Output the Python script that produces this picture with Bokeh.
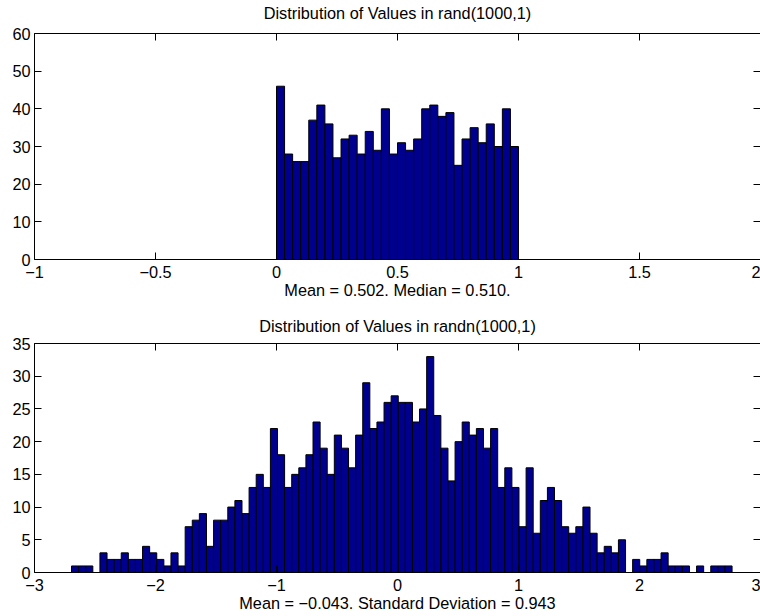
import numpy as np
from bokeh.plotting import figure
from bokeh.models import LinearAxis, FixedTicker, Range1d
from bokeh.layouts import column
from bokeh.embed import file_html
from bokeh.resources import INLINE

# ---- data ----
rand_counts = [46, 28, 26, 26, 37, 41, 36, 27, 32, 33, 28, 34, 29, 40, 28,
               31, 29, 32, 40, 41, 38, 39, 25, 32, 35, 31, 36, 30, 40, 30]
rand_bin_start = 0.0
rand_bin_width = 1.0 / 30

randn_counts = [1, 1, 1, 0, 3, 2, 2, 3, 2, 2, 4, 3, 2, 1, 3, 1, 7, 8, 9, 4,
                8, 8, 10, 11, 9, 13, 15, 13, 22, 18, 13, 15, 16, 18, 23, 19, 15, 21, 19, 16,
                21, 29, 22, 23, 26, 27, 26, 26, 23, 25, 33, 24, 19, 14, 20, 23, 21, 22, 19, 22,
                13, 16, 13, 7, 16, 6, 11, 13, 11, 7, 6, 7, 10, 6, 3, 4, 3, 5, 0, 2,
                1, 2, 2, 3, 1, 1, 1, 0, 1, 0, 1, 1, 1, 0, 0, 0]
randn_bin_start = -2.694
randn_bin_width = 0.0587

top_xticks = [-1, -0.5, 0, 0.5, 1, 1.5, 2]
top_xlabels = ["\u22121", "\u22120.5", "0", "0.5", "1", "1.5", "2"]
top_yticks = [0, 10, 20, 30, 40, 50, 60]

bot_xticks = [-3, -2, -1, 0, 1, 2, 3]
bot_xlabels = ["\u22123", "\u22122", "\u22121", "0", "1", "2", "3"]
bot_yticks = [0, 5, 10, 15, 20, 25, 30, 35]

top_title = "Distribution of Values in rand(1000,1)"
bot_title = "Distribution of Values in randn(1000,1)"
top_xlabel = "Mean = 0.502. Median = 0.510."
bot_xlabel = "Mean = \u22120.043. Standard Deviation = 0.943"

FONT = "Liberation Sans"
FS = "16.3px"
BAR = "#00008F"


def style_axis(ax, show_labels=True, show_line=True):
    ax.major_tick_in = 7
    ax.major_tick_out = 0
    ax.minor_tick_line_color = None
    ax.major_tick_line_color = "black"
    ax.axis_line_color = "black" if show_line else None
    ax.major_label_text_font = FONT
    ax.axis_label_text_font = FONT
    ax.axis_label_text_font_style = "normal"
    ax.axis_label_text_color = "black"
    ax.axis_label_text_font_size = FS
    if show_labels:
        ax.major_label_text_font_size = FS
        ax.major_label_text_color = "black"
    else:
        ax.major_label_text_font_size = "1px"
        ax.major_label_text_color = None
        ax.major_label_standoff = 0


def make_hist(counts, start, width, xr, yr, xticks, xlabels, yticks, title, xlabel,
              frame_h, top_b, bot_b, title_standoff):
    counts = np.array(counts, dtype=float)
    n = len(counts)
    left = start + width * np.arange(n)
    right = left + width
    p = figure(width=760, frame_width=726, frame_height=frame_h,
               x_range=Range1d(*xr), y_range=Range1d(*yr),
               output_backend="svg", toolbar_location=None,
               min_border_left=34, min_border_right=0,
               min_border_top=top_b, min_border_bottom=bot_b,
               x_axis_location=None, y_axis_location=None)
    p.outline_line_color = None
    p.xgrid.visible = False
    p.ygrid.visible = False
    p.background_fill_color = "white"
    p.border_fill_color = "white"

    p.quad(left=left, right=right, top=counts, bottom=0,
           fill_color=BAR, line_color="black", line_width=1)

    xt = FixedTicker(ticks=xticks)
    yt = FixedTicker(ticks=yticks)
    below = LinearAxis(ticker=xt, axis_label=xlabel)
    below.major_label_overrides = {t: l for t, l in zip(xticks, xlabels)}
    style_axis(below)
    below.major_label_standoff = 6
    below.axis_label_standoff = 0
    left_ax = LinearAxis(ticker=yt)
    style_axis(left_ax)
    left_ax.major_label_standoff = 4
    # top axis: inward ticks, carries the chart title as its label
    above = LinearAxis(ticker=xt, axis_label=title)
    style_axis(above, show_labels=False)
    above.axis_label_standoff = title_standoff
    right_ax = LinearAxis(ticker=yt)
    style_axis(right_ax, show_labels=False, show_line=False)
    p.add_layout(below, "below")
    p.add_layout(left_ax, "left")
    p.add_layout(above, "above")
    p.add_layout(right_ax, "right")
    return p


p1 = make_hist(rand_counts, rand_bin_start, rand_bin_width, (-1, 2), (0, 60),
               top_xticks, top_xlabels, top_yticks, top_title, top_xlabel, 226, 33, 46, 12)
p2 = make_hist(randn_counts, randn_bin_start, randn_bin_width, (-3, 3), (0, 35),
               bot_xticks, bot_xlabels, bot_yticks, bot_title, bot_xlabel, 229, 38, 44, 9)

layout = column(p1, p2)
open("out.html", "w").write(file_html(layout, INLINE))
